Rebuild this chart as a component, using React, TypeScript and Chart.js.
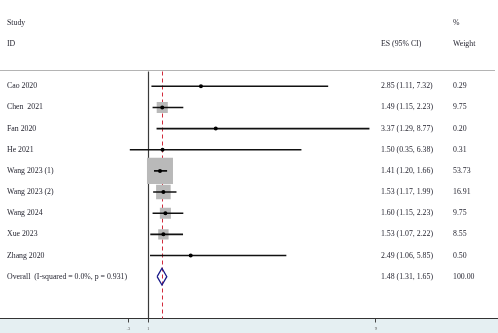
import React, { useEffect, useRef } from "react";
import { Chart, registerables } from "chart.js";

Chart.register(...registerables);

// Study rows of the forest plot
const studies = [
  "Cao 2020",
  "Chen  2021",
  "Fan 2020",
  "He 2021",
  "Wang 2023 (1)",
  "Wang 2023 (2)",
  "Wang 2024",
  "Xue 2023",
  "Zhang 2020",
];
const effect = [2.85, 1.49, 3.37, 1.5, 1.41, 1.53, 1.6, 1.53, 2.49];
const lower = [1.11, 1.15, 1.29, 0.35, 1.2, 1.17, 1.15, 1.07, 1.06];
const upper = [7.32, 2.23, 8.77, 6.38, 1.66, 1.99, 2.23, 2.22, 5.85];
const weights = [0.29, 9.75, 0.2, 0.31, 53.73, 16.91, 9.75, 8.55, 0.5];

// Pooled estimate
const overallLabel = "Overall  (I-squared = 0.0%, p = 0.931)";
const overallEffect = 1.48;
const overallLower = 1.31;
const overallUpper = 1.65;
const overallWeight = 100.0;

// Axis ticks
const xTickValues = [0.3, 1, 9];
const xTickLabels = [".3", "1", "9"];

const FONT = '"Liberation Serif", "Times New Roman", serif';
const TEXT_COLOR = "#1f1f2b";

const fmt = (v: number) => v.toFixed(2);

export default function App() {
  const canvasRef = useRef<HTMLCanvasElement | null>(null);

  useEffect(() => {
    const canvas = canvasRef.current;
    if (!canvas) return;

    const rowOf = (i: number) => i + 1;
    const overallRow = studies.length + 1;
    const headerRows = [-2, -1];
    const separatorRow = 0.23;

    const boxData = studies.map((_, i) => ({ x: effect[i], y: rowOf(i) }));
    const boxRadius = weights.map((w) => 2.51 * Math.sqrt(w));

    const ciDatasets = studies.map((_, i) => ({
      type: "scatter" as const,
      data: [
        { x: lower[i], y: rowOf(i) },
        { x: upper[i], y: rowOf(i) },
      ],
      showLine: true,
      borderColor: "#111111",
      borderWidth: 1.6,
      pointRadius: 0,
      order: 1,
    }));

    const dh = 0.395;
    const diamond = {
      type: "scatter" as const,
      data: [
        { x: overallLower, y: overallRow },
        { x: overallEffect, y: overallRow - dh },
        { x: overallUpper, y: overallRow },
        { x: overallEffect, y: overallRow + dh },
        { x: overallLower, y: overallRow },
      ],
      showLine: true,
      borderColor: "#1b1b8a",
      borderWidth: 1.3,
      pointRadius: 0,
      fill: false,
      order: 1,
    };

    const framePlugin = {
      id: "forestFrame",
      beforeDraw(chart: any) {
        const { ctx, chartArea, width, height } = chart;
        ctx.save();
        ctx.fillStyle = "#ffffff";
        ctx.fillRect(0, 0, width, height);
        ctx.fillStyle = "#e5eff2";
        ctx.fillRect(0, chartArea.bottom, width, height - chartArea.bottom);
        ctx.restore();
      },
      beforeDatasetsDraw(chart: any) {
        const { ctx, chartArea, scales } = chart;
        const xs = scales.x;
        const ys = scales.y;
        const sepY = Math.round(ys.getPixelForValue(separatorRow)) + 0.5;
        ctx.save();
        // header separator
        ctx.strokeStyle = "#b4b4b4";
        ctx.lineWidth = 1;
        ctx.beginPath();
        ctx.moveTo(0, sepY);
        ctx.lineTo(chartArea.right - 3, sepY);
        ctx.stroke();
        // line of no effect
        const x1 = Math.round(xs.getPixelForValue(1)) + 0.5;
        ctx.strokeStyle = "#3a3a3a";
        ctx.lineWidth = 1.2;
        ctx.beginPath();
        ctx.moveTo(x1, sepY + 1);
        ctx.lineTo(x1, chartArea.bottom);
        ctx.stroke();
        // pooled effect reference
        const xo = Math.round(xs.getPixelForValue(overallEffect)) + 0.5;
        ctx.strokeStyle = "#d22b3c";
        ctx.lineWidth = 1;
        ctx.setLineDash([4, 3]);
        ctx.beginPath();
        ctx.moveTo(xo, sepY + 1);
        ctx.lineTo(xo, chartArea.bottom);
        ctx.stroke();
        ctx.restore();
      },
      afterDatasetsDraw(chart: any) {
        const { ctx, scales } = chart;
        const ys = scales.y;
        const nameX = 7;
        const esX = 381;
        const wX = 453;
        ctx.save();
        ctx.font = `7.8px ${FONT}`;
        ctx.fillStyle = TEXT_COLOR;
        ctx.textBaseline = "middle";
        ctx.textAlign = "left";
        const yH1 = ys.getPixelForValue(headerRows[0]);
        const yH2 = ys.getPixelForValue(headerRows[1]);
        ctx.fillText("Study", nameX, yH1);
        ctx.fillText("ID", nameX, yH2);
        ctx.fillText("ES (95% CI)", esX, yH2);
        ctx.fillText("%", wX, yH1);
        ctx.fillText("Weight", wX, yH2);
        studies.forEach((s, i) => {
          const y = ys.getPixelForValue(rowOf(i));
          ctx.fillText(s, nameX, y);
          ctx.fillText(`${fmt(effect[i])} (${fmt(lower[i])}, ${fmt(upper[i])})`, esX, y);
          ctx.fillText(fmt(weights[i]), wX, y);
        });
        const yo = ys.getPixelForValue(overallRow);
        ctx.fillText(overallLabel, nameX, yo);
        ctx.fillText(`${fmt(overallEffect)} (${fmt(overallLower)}, ${fmt(overallUpper)})`, esX, yo);
        ctx.fillText(fmt(overallWeight), wX, yo);
        ctx.restore();
      },
    };

    const chart = new Chart(canvas, {
      type: "scatter",
      data: {
        datasets: [
          {
            data: boxData,
            pointStyle: "circle",
            pointRadius: 2,
            backgroundColor: "#000000",
            borderColor: "#000000",
            borderWidth: 0,
            order: 0,
          } as any,
          ...ciDatasets,
          diamond,
          {
            data: boxData,
            pointStyle: "rect",
            pointRadius: boxRadius,
            backgroundColor: "#b9b9b9",
            borderWidth: 0,
            order: 2,
          } as any,
        ],
      },
      options: {
        animation: false,
        responsive: false,
        maintainAspectRatio: false,
        layout: { padding: 0, autoPadding: false },
        plugins: {
          legend: { display: false },
          tooltip: { enabled: false },
        },
        scales: {
          x: {
            type: "linear",
            position: "bottom",
            min: -4.211,
            max: 13.287,
            afterBuildTicks: (scale: any) => {
              scale.ticks = xTickValues.map((v) => ({ value: v }));
            },
            afterFit: (scale: any) => {
              scale.height = 14.5;
              scale.paddingLeft = 0;
              scale.paddingRight = 0;
            },
            grid: {
              display: true,
              drawOnChartArea: false,
              drawTicks: true,
              tickLength: 4,
              color: "#444444",
              lineWidth: 1,
            },
            border: { display: true, color: "#333333", width: 1 },
            ticks: {
              autoSkip: false,
              maxRotation: 0,
              padding: 3,
              color: "#666666",
              font: { size: 5, family: FONT },
              callback: (value: any) => {
                const idx = xTickValues.indexOf(Number(value));
                return idx >= 0 ? xTickLabels[idx] : "";
              },
            },
          },
          y: {
            type: "linear",
            display: false,
            reverse: true,
            min: -3.08,
            max: 11.98,
          },
        },
      },
      plugins: [framePlugin],
    } as any);

    return () => chart.destroy();
  }, []);

  return (
    <div style={{ position: "absolute", left: 0, top: 0, width: 498, height: 333 }}>
      <canvas ref={canvasRef} width={498} height={333} style={{ display: "block" }} />
    </div>
  );
}
